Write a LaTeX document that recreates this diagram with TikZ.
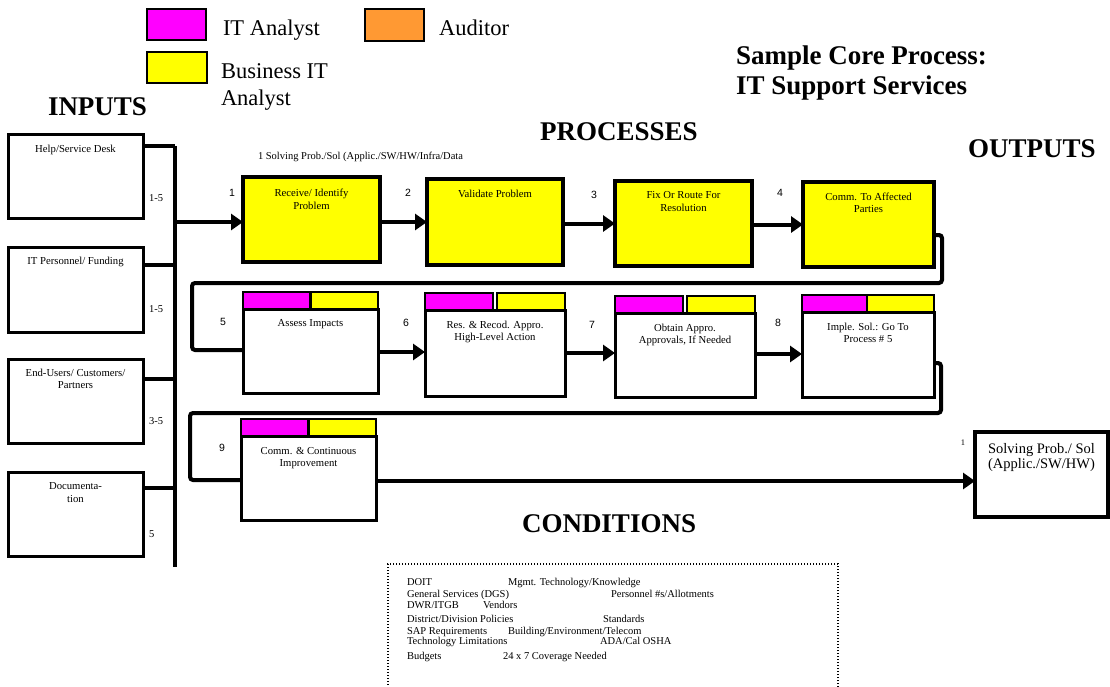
\documentclass[tikz,border=0pt]{standalone}
\usepackage{fontspec}
\setmainfont{Liberation Serif}
\newfontfamily\arialf{Liberation Sans}
\usetikzlibrary{arrows.meta,calc}
\definecolor{mag}{RGB}{255,0,255}
\definecolor{yel}{RGB}{255,255,0}
\definecolor{org}{RGB}{255,153,51}
\begin{document}
\begin{tikzpicture}[x=1pt,y=-1pt,
  every node/.style={inner sep=0pt,outer sep=0pt},
  legbox/.style={draw,line width=2pt,minimum width=59pt,minimum height=31pt},
  legtxt/.style={font=\fontsize{22.5}{27}\selectfont,align=left},
  inbox/.style={draw,line width=3pt,minimum width=135pt},
  ybox/.style={draw,line width=3.5pt,fill=yel},
  wbox/.style={draw,line width=3pt,fill=white},
  hdr/.style={draw,line width=2.5pt,minimum height=17pt},
  txt/.style={font=\fontsize{10.7}{12.5}\selectfont,align=center,anchor=north},
  num/.style={font=\arialf\fontsize{10.5}{12}\selectfont},
  lbl/.style={font=\fontsize{10.5}{12}\selectfont},
  bus/.style={line width=3.5pt},
  conn/.style={line width=4pt,rounded corners=3pt},
  arr/.style={line width=4pt,-{Triangle[length=12pt,width=16pt]}},
  head/.style={font=\bfseries\fontsize{27}{30}\selectfont,anchor=base west},
  cond/.style={font=\fontsize{10.5}{12}\selectfont,anchor=base west},
  dotline/.style={line width=1.2pt,dash pattern=on 1.2pt off 1.8pt},
]
\useasboundingbox (0,0) rectangle (1110,687);

% legend
\node[legbox,fill=mag] (lgm) at (176.5,24.5) {};
\node[legtxt,anchor=base west] (lgmt) at (223,35.5) {IT Analyst};
\node[legbox,fill=org,minimum height=32pt] (lgo) at (394.5,25) {};
\node[legtxt,anchor=base west] (lgot) at (439,36) {Auditor};
\node[legbox,fill=yel,minimum width=60pt] (lgy) at (177,67.5) {};
\node[legtxt,anchor=north west] (lgyt) at (221,64) {Business IT\\Analyst};

% title and headings
\node[font=\bfseries\fontsize{27}{30}\selectfont,align=left,anchor=north west] (title) at (736,46) {Sample Core Process:\\IT Support Services};
\node[head] (hin) at (48,116) {INPUTS};
\node[head] (hproc) at (540,141) {PROCESSES};
\node[head] (hout) at (968,158) {OUTPUTS};
\node[head] (hcond) at (522,532) {CONDITIONS};

% inputs
\node[inbox,minimum height=83pt] (in1) at (75.5,176.5) {};
\node[inbox,minimum height=85pt] (in2) at (75.5,289.5) {};
\node[inbox,minimum height=84pt] (in3) at (75.5,401) {};
\node[inbox,minimum height=84pt] (in4) at (75.5,514) {};
\node[txt] (in1t) at ($(in1.north)+(0,10.5)$) {Help/Service Desk};
\node[txt] (in2t) at ($(in2.north)+(0,10.5)$) {IT Personnel/ Funding};
\node[txt] (in3t) at ($(in3.north)+(0,10)$) {End-Users/ Customers/\\Partners};
\node[txt] (in4t) at ($(in4.north)+(0,10.5)$) {Documenta-\\tion};
\node[lbl] (in1n) at (156,198) {1-5};
\node[lbl] (in2n) at (156,309) {1-5};
\node[lbl] (in3n) at (156,421) {3-5};
\node[lbl,anchor=west] (in4n) at (149,534) {5};

\coordinate (b1) at (175,146);
\coordinate (b2) at (175,265);
\coordinate (b3) at (175,379);
\coordinate (b4) at (175,488);
\coordinate (bend) at (175,567);
\coordinate (bout) at (175,222);
\draw[bus] (b1) -- (bend);
\draw[bus] (in1.east|-b1) -- (b1);
\draw[bus] (in2.east|-b2) -- (b2);
\draw[bus] (in3.east|-b3) -- (b3);
\draw[bus] (in4.east|-b4) -- (b4);

% process row 1
\node[lbl,anchor=west] (sol) at (258,157) {1 Solving Prob./Sol (Applic./SW/HW/Infra/Data};
\node[ybox,minimum width=137pt,minimum height=85pt] (p1) at (311.5,219.5) {};
\node[ybox,minimum width=136pt,minimum height=86pt] (p2) at (495,222) {};
\node[ybox,minimum width=137pt,minimum height=85pt] (p3) at (683.5,223.5) {};
\node[ybox,minimum width=131pt,minimum height=85pt] (p4) at (868.5,224.5) {};
\node[txt] (p1t) at ($(p1.north)+(0,12)$) {Receive/ Identify\\Problem};
\node[txt] (p2t) at ($(p2.north)+(0,11)$) {Validate Problem};
\node[txt] (p3t) at ($(p3.north)+(0,10.5)$) {Fix Or Route For\\Resolution};
\node[txt] (p4t) at ($(p4.north)+(0,10.5)$) {Comm. To Affected\\Parties};
\node[num] (n1) at (232,193) {1};
\node[num] (n2) at (408,193) {2};
\node[num] (n3) at (594,195) {3};
\node[num] (n4) at (780,193) {4};
\draw[arr] (bout) -- (p1.west|-bout);
\draw[arr] (p1.east|-p2.west) -- (p2.west);
\draw[arr] (p2.east|-p3.west) -- (p3.west);
\draw[arr] (p3.east|-p4.west) -- (p4.west);

% process row 2
\node[wbox,minimum width=135pt,minimum height=84pt] (p5) at (310.5,351) {};
\node[wbox,minimum width=140pt,minimum height=86pt] (p6) at (495,353) {};
\node[wbox,minimum width=140pt,minimum height=84pt] (p7) at (685,355) {};
\node[wbox,minimum width=132pt,minimum height=85pt] (p8) at (868,354.5) {};
\foreach \b/\w in {p5/67.5,p6/68,p7/68,p8/67}{
  \node[hdr,fill=mag,minimum width=\w pt,anchor=south west] (\b m) at (\b.north west) {};
  \node[hdr,fill=yel,minimum width=\w pt,anchor=south east] (\b y) at (\b.north east) {};
}
\node[txt] (p5t) at ($(p5.north)+(0,10)$) {Assess Impacts};
\node[txt] (p6t) at ($(p6.north)+(0,11)$) {Res. \& Recod. Appro.\\High-Level Action};
\node[txt] (p7t) at ($(p7.north)+(0,11)$) {Obtain Appro.\\Approvals, If Needed};
\node[txt] (p8t) at ($(p8.north)+(0,11)$) {Imple. Sol.: Go To\\Process \# 5};
\node[num] (n5) at (223,322) {5};
\node[num] (n6) at (406,323) {6};
\node[num] (n7) at (592,325) {7};
\node[num] (n8) at (778,323) {8};
\coordinate (s1a) at (942,235);
\coordinate (s1b) at (192,283);
\coordinate (s1c) at (192,350);
\draw[conn] (p4.east|-s1a) -- (s1a) -- (s1a|-s1b) -- (s1b) -- (s1c) -- (p5.west|-s1c);
\draw[arr] (p5.east|-0,352) -- (p6.west|-0,352);
\draw[arr] (p6.east|-0,353) -- (p7.west|-0,353);
\draw[arr] (p7.east|-0,354) -- (p8.west|-0,354);

% process row 3
\node[wbox,minimum width=135pt,minimum height=84pt] (p9) at (308.5,478) {};
\node[hdr,fill=mag,minimum width=67.5pt,anchor=south west] (p9m) at (p9.north west) {};
\node[hdr,fill=yel,minimum width=67.5pt,anchor=south east] (p9y) at (p9.north east) {};
\node[txt] (p9t) at ($(p9.north)+(0,11)$) {Comm. \& Continuous\\Improvement};
\node[num] (n9) at (222,448) {9};
\coordinate (s2a) at (941,363);
\coordinate (s2b) at (190,413);
\coordinate (s2c) at (190,480);
\draw[conn] (p8.east|-s2a) -- (s2a) -- (s2a|-s2b) -- (s2b) -- (s2c) -- (p9.west|-s2c);

% output
\node[draw,line width=3.5pt,minimum width=133pt,minimum height=85pt] (out) at (1041.5,474.5) {};
\node[txt,font=\fontsize{14.5}{15}\selectfont] (outt) at ($(out.north)+(0,11)$) {Solving Prob./ Sol\\(Applic./SW/HW)};
\node[font=\fontsize{8.5}{10}\selectfont] (outn) at (963,443) {1};
\coordinate (oy) at (0,481);
\draw[arr] (p9.east|-oy) -- (out.west|-oy);

% conditions
\coordinate (cA) at (388,564);
\coordinate (cB) at (838,564);
\coordinate (cC) at (388,690);
\coordinate (cD) at (838,690);
\draw[dotline] (cD) -- (cB) -- (cA) -- (cC);
\node[cond] (c1a) at (407,585) {DOIT};
\node[cond] (c1b) at (508,585) {Mgmt. Technology/Knowledge};
\node[cond] (c2a) at (407,597.5) {General Services (DGS)};
\node[cond] (c2b) at (611,597.5) {Personnel \#s/Allotments};
\node[cond] (c3a) at (407,608) {DWR/ITGB};
\node[cond] (c3b) at (483,608) {Vendors};
\node[cond] (c4a) at (407,622) {District/Division Policies};
\node[cond] (c4b) at (603,622) {Standards};
\node[cond] (c5a) at (407,634) {SAP Requirements};
\node[cond] (c5b) at (508,634) {Building/Environment/Telecom};
\node[cond] (c6a) at (407,644.5) {Technology Limitations};
\node[cond] (c6b) at (600,644.5) {ADA/Cal OSHA};
\node[cond] (c7a) at (407,659) {Budgets};
\node[cond] (c7b) at (503,659) {24 x 7 Coverage Needed};
\end{tikzpicture}
\end{document}
